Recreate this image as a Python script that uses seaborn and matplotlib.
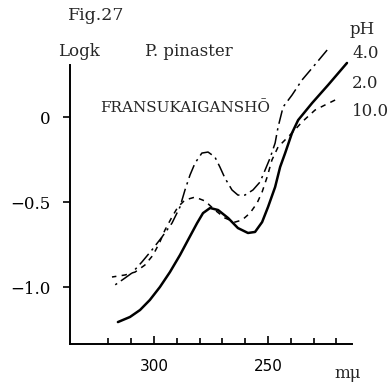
import matplotlib
matplotlib.use("Agg")
import matplotlib.pyplot as plt
import seaborn as sns

sns.set_style("white", {"xtick.bottom": True, "ytick.left": True,
                        "xtick.color": "k", "ytick.color": "k"})
plt.rcParams['font.family'] = ['DejaVu Serif']

# wavelength (m mu) and log k
wl_ph2 = [315.8, 310.5, 306.1, 301.8, 297.4, 293.0, 288.6, 285.1, 281.1, 278.5, 275.4,
          271.9, 267.5, 263.2, 258.8, 255.7, 252.6, 250.0, 246.9, 244.7, 242.5, 239.5,
          236.8, 230.7, 223.7, 215.4]
logk_ph2 = [-1.206, -1.176, -1.135, -1.076, -1.000, -0.912, -0.812, -0.724, -0.624, -0.565, -0.535,
            -0.547, -0.594, -0.653, -0.682, -0.676, -0.618, -0.529, -0.412, -0.294, -0.212, -0.094,
            -0.018, 0.082, 0.188, 0.318]

wl_ph4 = [317.1, 312.7, 309.7, 305.3, 300.9, 296.5, 292.1, 288.6, 286.4, 284.2, 282.0,
          279.0, 276.3, 273.3, 271.1, 268.9, 265.8, 263.2, 260.1, 256.6, 253.5, 251.3,
          249.1, 246.9, 245.6, 243.4, 239.5, 235.1, 230.3, 224.1]
logk_ph4 = [-0.988, -0.947, -0.918, -0.853, -0.782, -0.706, -0.624, -0.529, -0.429, -0.341, -0.271,
            -0.212, -0.206, -0.235, -0.294, -0.359, -0.429, -0.459, -0.459, -0.429, -0.382, -0.312,
            -0.241, -0.153, -0.059, 0.059, 0.129, 0.218, 0.294, 0.394]

wl_ph10 = [318.4, 312.7, 308.3, 304.0, 300.4, 297.4, 295.2, 292.1, 289.5, 286.4, 282.0,
           277.6, 273.3, 268.9, 264.5, 261.4, 257.9, 254.8, 252.6, 250.4, 248.3, 245.6,
           243.9, 239.5, 235.1, 229.4, 225.0, 220.6]
logk_ph10 = [-0.941, -0.929, -0.912, -0.871, -0.812, -0.735, -0.665, -0.588, -0.529, -0.488, -0.471,
             -0.494, -0.547, -0.594, -0.618, -0.606, -0.565, -0.506, -0.441, -0.353, -0.253, -0.176,
             -0.153, -0.094, -0.029, 0.041, 0.071, 0.100]

ph_labels = ["4.0", "2.0", "10.0"]

W, H = 390, 386
fig = plt.figure(figsize=(W / 100, H / 100), dpi=100)
ax = fig.add_axes([70 / W, 1 - 344 / H, 282 / W, 279 / H])

sns.lineplot(x=wl_ph2, y=logk_ph2, ax=ax, color='k', lw=1.8, clip_on=False)
sns.lineplot(x=wl_ph4, y=logk_ph4, ax=ax, color='k', lw=1.1, clip_on=False,
             linestyle=(0, (9, 3, 1.5, 3)))
sns.lineplot(x=wl_ph10, y=logk_ph10, ax=ax, color='k', lw=1.1, clip_on=False,
             linestyle=(0, (3.5, 3.5)))
for ln in ax.lines:
    ln.set_solid_joinstyle('round')

ax.set(xlim=(336.8, 213.2), ylim=(-1.335, 0.306))
sns.despine(ax=ax)
for s in ['left', 'bottom']:
    ax.spines[s].set_linewidth(1.4)
    ax.spines[s].set_color('k')

ax.set_xticks([300, 250])
ax.set_xticklabels(['300', '250'], fontfamily='DejaVu Sans', fontsize=11)
ax.set_xticks(range(220, 330, 10), minor=True)
ax.tick_params(axis='x', which='major', bottom=True, direction='in', length=6, width=1.2,
               color='k', pad=11)
ax.tick_params(axis='x', which='minor', bottom=True, direction='in', length=4, width=1.2,
               color='k')
ax.set_yticks([0, -0.5, -1.0])
ax.set_yticklabels(['0', '\u22120.5', '\u22121.0'], fontsize=12)
ax.tick_params(axis='y', left=True, direction='out', length=5, width=1.2, color='k', pad=9)
ax.set_xlabel('')
ax.set_ylabel('')

def put(px, py, s, size=12, ha='left'):
    fig.text(px / W, 1 - py / H, s, fontsize=size, ha=ha, va='center')

put(68, 16, 'Fig.27', 12.5)
put(58, 52, 'Logk', 12)
put(145, 52, 'P. pinaster', 12)
put(100, 108, 'FRANSUKAIGANSH\u014c', 11)
put(350, 30, 'pH', 12)
put(352, 53, ph_labels[0], 12)
put(352, 83, ph_labels[1], 12)
put(352, 111, ph_labels[2], 12)
put(334, 374, 'm\u03bc', 12)

fig.savefig('out.png', dpi=100)
